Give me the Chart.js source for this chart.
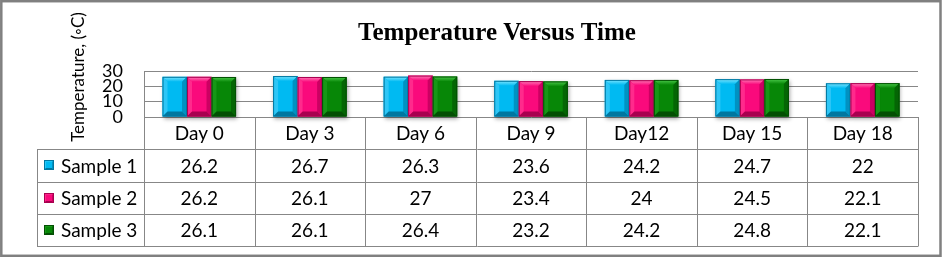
<!DOCTYPE html>
<html>
<head>
<meta charset="utf-8">
<script src="https://cdn.jsdelivr.net/npm/chart.js@4"></script>
<style>
  html, body { margin: 0; padding: 0; background: #fff; }
</style>
</head>
<body>
<canvas id="chart" width="942" height="257"></canvas>
<script>
// data
const days = ['Day 0', 'Day 3', 'Day 6', 'Day 9', 'Day12', 'Day 15', 'Day 18'];
const sample1 = [26.2, 26.7, 26.3, 23.6, 24.2, 24.7, 22];
const sample2 = [26.2, 26.1, 27, 23.4, 24, 24.5, 22.1];
const sample3 = [26.1, 26.1, 26.4, 23.2, 24.2, 24.8, 22.1];
const seriesNames = ['Sample 1', 'Sample 2', 'Sample 3'];
const yTicks = [0, 10, 20, 30];

const chartTitle = 'Temperature Versus Time';
const yTitle = 'Temperature, (\u25E6C)';

const palette = [
  { main: '#00BAF2', light: '#7FE6FF', side: '#2EC6F6', dark: '#0092C2', edge: '#0077A0' },
  { main: '#FA0A7C', light: '#FF7DB8', side: '#FF2A8C', dark: '#CC0062', edge: '#A8004F' },
  { main: '#078707', light: '#4CCB4C', side: '#169716', dark: '#046604', edge: '#034F03' }
];

const gridColor = '#878787';
const textFont = '"Lato", "Open Sans", sans-serif';

function drawBevel(ctx, l, t, w, h, pal, b) {
  const r = l + w, bt = t + h;
  ctx.save();
  // top bevel, lighter
  const g = ctx.createLinearGradient(0, t, 0, t + b);
  g.addColorStop(0, pal.light);
  g.addColorStop(1, pal.main);
  ctx.fillStyle = g;
  ctx.beginPath();
  ctx.moveTo(l, t); ctx.lineTo(r, t); ctx.lineTo(r - b, t + b); ctx.lineTo(l + b, t + b);
  ctx.closePath(); ctx.fill();
  // left side
  ctx.fillStyle = pal.side;
  ctx.beginPath();
  ctx.moveTo(l, t); ctx.lineTo(l + b, t + b); ctx.lineTo(l + b, bt - b); ctx.lineTo(l, bt);
  ctx.closePath(); ctx.fill();
  // right side
  ctx.fillStyle = pal.dark;
  ctx.beginPath();
  ctx.moveTo(r, t); ctx.lineTo(r - b, t + b); ctx.lineTo(r - b, bt - b); ctx.lineTo(r, bt);
  ctx.closePath(); ctx.fill();
  // bottom
  ctx.fillStyle = pal.edge;
  ctx.beginPath();
  ctx.moveTo(l, bt); ctx.lineTo(l + b, bt - b); ctx.lineTo(r - b, bt - b); ctx.lineTo(r, bt);
  ctx.closePath(); ctx.fill();
  ctx.strokeStyle = pal.edge;
  ctx.lineWidth = 1;
  ctx.strokeRect(l + 0.5, t + 0.5, w - 1, h - 1);
  ctx.restore();
}

const barLook = {
  id: 'barLook',
  beforeDatasetsDraw(chart) {
    const ctx = chart.ctx;
    ctx.save();
    ctx.shadowColor = 'rgba(0,0,0,0.35)';
    ctx.shadowBlur = 4;
    ctx.shadowOffsetX = 1;
    ctx.shadowOffsetY = 2;
  },
  afterDatasetsDraw(chart) {
    const ctx = chart.ctx;
    ctx.restore();
    chart.data.datasets.forEach((ds, di) => {
      const meta = chart.getDatasetMeta(di);
      meta.data.forEach(bar => {
        const p = bar.getProps(['x', 'y', 'base', 'width'], true);
        drawBevel(ctx, p.x - p.width / 2, p.y, p.width, p.base - p.y, palette[di], 5);
      });
    });
  }
};

const dataTable = {
  id: 'dataTable',
  afterDraw(chart) {
    const ctx = chart.ctx;
    const xs = chart.scales.x;
    const area = chart.chartArea;
    const step = xs.getPixelForValue(1) - xs.getPixelForValue(0);
    const left = xs.getPixelForValue(0) - step / 2;
    const right = xs.getPixelForValue(days.length - 1) + step / 2;
    const legendLeft = 37;
    const rowH = 32.3;
    const top = area.bottom;
    const rows = seriesNames.length;
    const bottom = top + rowH * (rows + 1);

    ctx.save();
    ctx.strokeStyle = gridColor;
    ctx.lineWidth = 1;
    ctx.beginPath();
    // horizontal lines
    for (let r = 1; r <= rows + 1; r++) {
      const y = Math.round(top + r * rowH) + 0.5;
      ctx.moveTo(legendLeft, y);
      ctx.lineTo(right, y);
    }
    // vertical lines
    for (let i = 0; i <= days.length; i++) {
      const x = Math.round(left + i * step) + 0.5;
      ctx.moveTo(x, top);
      ctx.lineTo(x, Math.round(bottom) + 0.5);
    }
    ctx.moveTo(legendLeft + 0.5, Math.round(top + rowH) + 0.5);
    ctx.lineTo(legendLeft + 0.5, Math.round(bottom) + 0.5);
    ctx.stroke();

    ctx.fillStyle = '#000';
    ctx.font = '19px ' + textFont;
    ctx.textAlign = 'center';
    ctx.textBaseline = 'middle';
    days.forEach((d, i) => {
      ctx.fillText(d, xs.getPixelForValue(i), top + rowH / 2 + 1);
    });
    chart.data.datasets.forEach((ds, di) => {
      const cy = top + rowH * (di + 1) + rowH / 2 + 1;
      ds.data.forEach((v, i) => {
        ctx.fillStyle = '#000';
        ctx.textAlign = 'center';
        ctx.fillText(String(v), xs.getPixelForValue(i), cy);
      });
      // legend key
      const k = 10;
      const kx = 44, ky = Math.round(cy - k / 2 - 1);
      ctx.fillStyle = palette[di].main;
      ctx.fillRect(kx, ky, k, k);
      drawBevel(ctx, kx, ky, k, k, palette[di], 2);
      ctx.fillStyle = '#000';
      ctx.textAlign = 'left';
      ctx.fillText(ds.label, 61, cy);
    });

    // chart title
    ctx.font = 'bold 25px "Liberation Serif", serif';
    ctx.textAlign = 'center';
    ctx.textBaseline = 'alphabetic';
    ctx.fillText(chartTitle, 497, 40);

    // y axis title
    ctx.save();
    ctx.translate(79, 77);
    ctx.rotate(-Math.PI / 2);
    ctx.font = '17px ' + textFont;
    ctx.textBaseline = 'middle';
    ctx.fillText(yTitle, 0, 0);
    ctx.restore();

    // outer frame
    ctx.strokeStyle = '#808080';
    ctx.lineWidth = 2.5;
    ctx.strokeRect(1.3, 1.2, 939.2, 254.6);
    ctx.restore();
  }
};

const seriesValues = [sample1, sample2, sample3];

new Chart(document.getElementById('chart'), {
  type: 'bar',
  data: {
    labels: days,
    datasets: seriesValues.map((vals, i) => ({
      label: seriesNames[i],
      data: vals,
      backgroundColor: palette[i].main,
      borderWidth: 0,
      clip: false
    }))
  },
  options: {
    responsive: false,
    animation: false,
    devicePixelRatio: 1,
    layout: { padding: { top: 71, bottom: 140, left: 0, right: 24 } },
    datasets: { bar: { categoryPercentage: 0.665, barPercentage: 1 } },
    plugins: {
      legend: { display: false },
      title: { display: false },
      tooltip: { enabled: false }
    },
    scales: {
      x: { display: false },
      y: {
        min: 0,
        max: 30,
        afterFit: scale => { scale.width = 144; },
        afterBuildTicks: scale => { scale.ticks = yTicks.map(v => ({ value: v })); },
        grid: { color: gridColor, drawTicks: false },
        border: { display: true, color: gridColor },
        ticks: {
          autoSkip: false,
          padding: 21,
          color: '#000',
          font: { family: textFont, size: 18 }
        }
      }
    }
  },
  plugins: [barLook, dataTable]
});
</script>
</body>
</html>
